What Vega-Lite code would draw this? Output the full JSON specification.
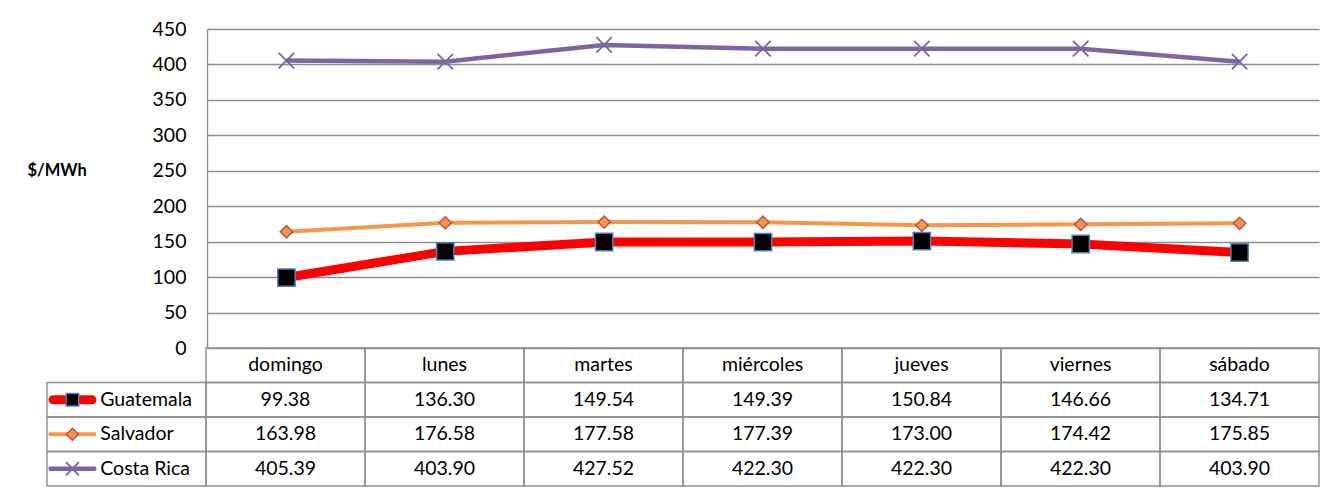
{
  "$schema": "https://vega.github.io/schema/vega-lite/v6.json",
  "padding": {"left": 27, "top": 19, "right": 5, "bottom": 5},
  "background": "white",
  "config": {
    "font": "Lato",
    "view": {"stroke": null},
    "text": {"font": "Lato", "fontSize": 19.5, "color": "#000000"}
  },
  "datasets": {
    "d": [
      {"day": "domingo", "series": "Guatemala", "value": 99.38},
      {"day": "lunes", "series": "Guatemala", "value": 136.30},
      {"day": "martes", "series": "Guatemala", "value": 149.54},
      {"day": "miércoles", "series": "Guatemala", "value": 149.39},
      {"day": "jueves", "series": "Guatemala", "value": 150.84},
      {"day": "viernes", "series": "Guatemala", "value": 146.66},
      {"day": "sábado", "series": "Guatemala", "value": 134.71},
      {"day": "domingo", "series": "Salvador", "value": 163.98},
      {"day": "lunes", "series": "Salvador", "value": 176.58},
      {"day": "martes", "series": "Salvador", "value": 177.58},
      {"day": "miércoles", "series": "Salvador", "value": 177.39},
      {"day": "jueves", "series": "Salvador", "value": 173.00},
      {"day": "viernes", "series": "Salvador", "value": 174.42},
      {"day": "sábado", "series": "Salvador", "value": 175.85},
      {"day": "domingo", "series": "Costa Rica", "value": 405.39},
      {"day": "lunes", "series": "Costa Rica", "value": 403.90},
      {"day": "martes", "series": "Costa Rica", "value": 427.52},
      {"day": "miércoles", "series": "Costa Rica", "value": 422.30},
      {"day": "jueves", "series": "Costa Rica", "value": 422.30},
      {"day": "viernes", "series": "Costa Rica", "value": 422.30},
      {"day": "sábado", "series": "Costa Rica", "value": 403.90}
    ]
  },
  "vconcat": [
    {
      "width": 1112,
      "height": 319,
      "data": {"name": "d"},
      "encoding": {
        "x": {
          "field": "day", "type": "nominal",
          "scale": {"type": "point", "padding": 0.5, "domain": ["domingo", "lunes", "martes", "miércoles", "jueves", "viernes", "sábado"]},
          "axis": null
        },
        "y": {
          "field": "value", "type": "quantitative",
          "scale": {"domain": [0, 450], "nice": false},
          "axis": {
            "values": [0, 50, 100, 150, 200, 250, 300, 350, 400, 450],
            "grid": true, "gridColor": "#8e8e8e", "gridWidth": 1.4,
            "domainColor": "#8e8e8e", "domainWidth": 1.4,
            "ticks": false, "labelPadding": 21,
            "labelFont": "Lato", "labelFontSize": 19.5, "labelColor": "#000000",
            "title": "$/MWh", "titleAngle": 0, "titleAlign": "left", "titleBaseline": "middle",
            "titleX": -180, "titleY": 141, "titleFont": "Lato", "titleFontSize": 16.5,
            "titleFontWeight": "bold", "titleColor": "#000000"
          }
        }
      },
      "layer": [
        {"transform": [{"filter": "datum.series === 'Guatemala'"}], "mark": {"type": "line", "color": "#ff0000", "strokeWidth": 9}},
        {"transform": [{"filter": "datum.series === 'Salvador'"}], "mark": {"type": "line", "color": "#f79646", "strokeWidth": 4}},
        {"transform": [{"filter": "datum.series === 'Costa Rica'"}], "mark": {"type": "line", "color": "#8064a2", "strokeWidth": 4.5}},
        {"transform": [{"filter": "datum.series === 'Guatemala'"}], "mark": {"type": "point", "shape": "square", "size": 300, "filled": true, "fill": "#000000", "stroke": "#4f81bd", "strokeWidth": 1.5, "opacity": 1}},
        {"transform": [{"filter": "datum.series === 'Salvador'"}], "mark": {"type": "point", "shape": "diamond", "size": 150, "filled": true, "fill": "#f79646", "stroke": "#c0504d", "strokeWidth": 1.5, "opacity": 1}},
        {"transform": [{"filter": "datum.series === 'Costa Rica'"}], "mark": {"type": "point", "shape": "M-1,-1L1,1M-1,1L1,-1", "size": 240, "filled": false, "stroke": "#8064a2", "strokeWidth": 1.8, "opacity": 1}}
      ]
    },
    {
      "width": 1112,
      "height": 138,
      "data": {"name": "d"},
      "layer": [
        {
          "mark": {"type": "rect", "fill": null, "stroke": "#8e8e8e", "strokeWidth": 1.4},
          "encoding": {
            "x": {
              "field": "day", "type": "nominal",
              "scale": {"type": "band", "domain": ["leyenda", "domingo", "lunes", "martes", "miércoles", "jueves", "viernes", "sábado"], "range": [-160, 1112], "paddingInner": 0, "paddingOuter": 0},
              "axis": null
            },
            "y": {
              "field": "series", "type": "nominal",
              "scale": {"type": "band", "domain": ["hdr", "Guatemala", "Salvador", "Costa Rica"], "paddingInner": 0, "paddingOuter": 0},
              "axis": null
            }
          }
        },
        {
          "transform": [{"filter": "datum.series === 'Guatemala'"}],
          "mark": {"type": "rect", "fill": null, "stroke": "#8e8e8e", "strokeWidth": 1.4},
          "encoding": {
            "x": {"field": "day", "type": "nominal"},
            "y": {"datum": "hdr", "type": "nominal"}
          }
        },
        {
          "transform": [{"filter": "datum.day === 'domingo'"}],
          "mark": {"type": "rect", "fill": null, "stroke": "#8e8e8e", "strokeWidth": 1.4},
          "encoding": {
            "x": {"datum": "leyenda", "type": "nominal"},
            "y": {"field": "series", "type": "nominal"}
          }
        },
        {
          "mark": {"type": "text", "baseline": "middle", "align": "center"},
          "encoding": {
            "x": {"field": "day", "type": "nominal", "bandPosition": 0.5},
            "y": {"field": "series", "type": "nominal", "bandPosition": 0.5},
            "text": {"field": "value", "type": "quantitative", "format": ".2f"}
          }
        },
        {
          "transform": [{"filter": "datum.series === 'Guatemala'"}],
          "mark": {"type": "text", "baseline": "middle", "align": "center"},
          "encoding": {
            "x": {"field": "day", "type": "nominal", "bandPosition": 0.5},
            "y": {"datum": "hdr", "type": "nominal", "bandPosition": 0.5},
            "text": {"field": "day", "type": "nominal"}
          }
        },
        {
          "transform": [{"filter": "datum.day === 'domingo' && datum.series === 'Guatemala'"}],
          "mark": {"type": "tick", "orient": "horizontal", "size": 48, "thickness": 9, "color": "#ff0000", "cornerRadius": 4.5, "opacity": 1, "xOffset": -54},
          "encoding": {
            "x": {"datum": "leyenda", "type": "nominal"},
            "y": {"field": "series", "type": "nominal", "bandPosition": 0.5}
          }
        },
        {
          "transform": [{"filter": "datum.day === 'domingo' && datum.series === 'Salvador'"}],
          "mark": {"type": "tick", "orient": "horizontal", "size": 48, "thickness": 4, "color": "#f79646", "cornerRadius": 2, "opacity": 1, "xOffset": -54},
          "encoding": {
            "x": {"datum": "leyenda", "type": "nominal"},
            "y": {"field": "series", "type": "nominal", "bandPosition": 0.5}
          }
        },
        {
          "transform": [{"filter": "datum.day === 'domingo' && datum.series === 'Costa Rica'"}],
          "mark": {"type": "tick", "orient": "horizontal", "size": 48, "thickness": 4.5, "color": "#8064a2", "cornerRadius": 2, "opacity": 1, "xOffset": -54},
          "encoding": {
            "x": {"datum": "leyenda", "type": "nominal"},
            "y": {"field": "series", "type": "nominal", "bandPosition": 0.5}
          }
        },
        {
          "transform": [{"filter": "datum.day === 'domingo' && datum.series === 'Guatemala'"}],
          "mark": {"type": "point", "shape": "square", "size": 160, "filled": true, "fill": "#000000", "stroke": "#4f81bd", "strokeWidth": 1.5, "opacity": 1},
          "encoding": {
            "x": {"datum": "leyenda", "type": "nominal", "bandPosition": 0.16},
            "y": {"field": "series", "type": "nominal", "bandPosition": 0.5}
          }
        },
        {
          "transform": [{"filter": "datum.day === 'domingo' && datum.series === 'Salvador'"}],
          "mark": {"type": "point", "shape": "diamond", "size": 140, "filled": true, "fill": "#f79646", "stroke": "#c0504d", "strokeWidth": 1.5, "opacity": 1},
          "encoding": {
            "x": {"datum": "leyenda", "type": "nominal", "bandPosition": 0.16},
            "y": {"field": "series", "type": "nominal", "bandPosition": 0.5}
          }
        },
        {
          "transform": [{"filter": "datum.day === 'domingo' && datum.series === 'Costa Rica'"}],
          "mark": {"type": "point", "shape": "M-1,-1L1,1M-1,1L1,-1", "size": 170, "filled": false, "stroke": "#8064a2", "strokeWidth": 1.8, "opacity": 1},
          "encoding": {
            "x": {"datum": "leyenda", "type": "nominal", "bandPosition": 0.16},
            "y": {"field": "series", "type": "nominal", "bandPosition": 0.5}
          }
        },
        {
          "transform": [{"filter": "datum.day === 'domingo'"}],
          "mark": {"type": "text", "baseline": "middle", "align": "left"},
          "encoding": {
            "x": {"datum": "leyenda", "type": "nominal", "bandPosition": 0.335},
            "y": {"field": "series", "type": "nominal", "bandPosition": 0.5},
            "text": {"field": "series", "type": "nominal"}
          }
        }
      ]
    }
  ],
  "spacing": 0,
  "bounds": "flush"
}
